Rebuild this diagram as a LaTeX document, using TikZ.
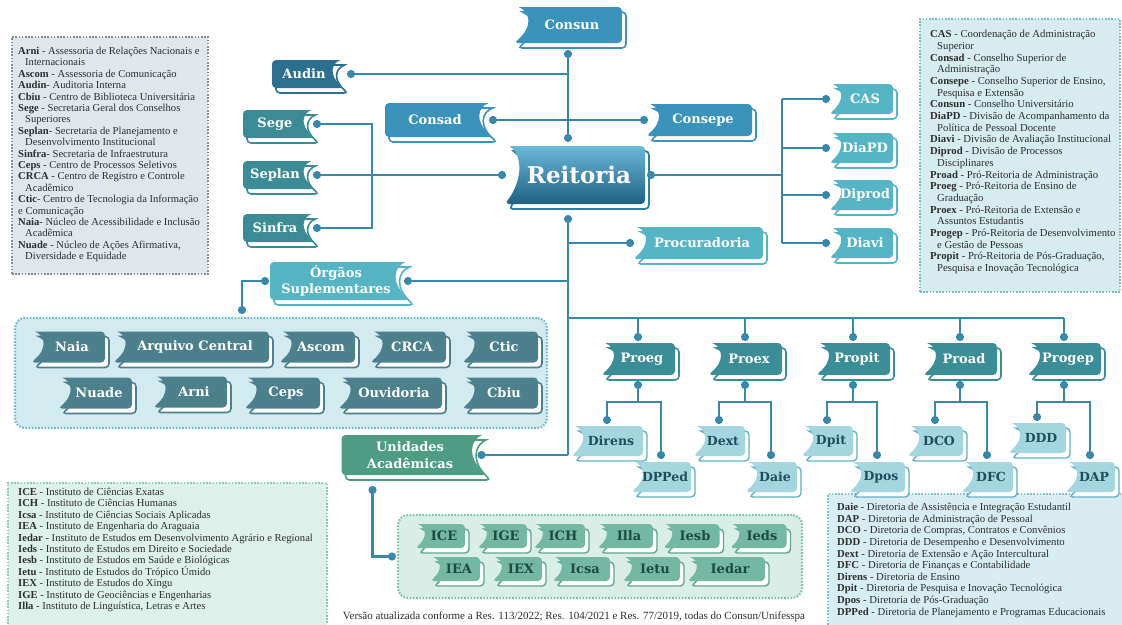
\documentclass[tikz,border=0pt]{standalone}
\usepackage{fontspec}
\setmainfont{Liberation Serif}
\newfontfamily\slab{DejaVu Serif}
\usetikzlibrary{calc,arrows.meta}

\definecolor{lc}{HTML}{3888AC}
\definecolor{cBlue}{HTML}{3A93BB}
\definecolor{cAudin}{HTML}{2C6F8E}
\definecolor{cSege}{HTML}{3C8C98}
\definecolor{cReitTop}{HTML}{6BB8D8}
\definecolor{cReitBot}{HTML}{1F6183}
\definecolor{cReitSh}{HTML}{2F7FA3}
\definecolor{cLight}{HTML}{56B5C5}
\definecolor{cSlate}{HTML}{4C808D}
\definecolor{cPro}{HTML}{3B8E98}
\definecolor{cDir}{HTML}{A4D6DF}
\definecolor{cDirSh}{HTML}{62B1C1}
\definecolor{cDirTxt}{HTML}{1F4E5B}
\definecolor{cUni}{HTML}{4F9C85}
\definecolor{cInst}{HTML}{74B8A3}
\definecolor{cInstSh}{HTML}{5FA58F}
\definecolor{cInstTxt}{HTML}{1E4B40}
\definecolor{cOrgF}{HTML}{D2EBEF}
\definecolor{cOrgB}{HTML}{70BBC8}
\definecolor{cUniF}{HTML}{D9EEE7}
\definecolor{cUniB}{HTML}{80C2AF}
\definecolor{cTLF}{HTML}{DFE7ED}
\definecolor{cTLB}{HTML}{7D909B}
\definecolor{cTRF}{HTML}{D6ECEF}
\definecolor{cTRB}{HTML}{78BCC8}
\definecolor{cBLF}{HTML}{DDF0EA}
\definecolor{cBLB}{HTML}{8CC8B6}
\definecolor{cBRF}{HTML}{D8EDF1}
\definecolor{cBRB}{HTML}{7CC0CC}
\definecolor{cLeg}{HTML}{2E2E2E}

\tikzset{
 conn/.style={draw=lc, line width=2.4pt},
 ds/.style={conn, {Circle[length=8pt]}-, shorten <=-4pt},
 de/.style={conn, -{Circle[length=8pt]}, shorten >=-4pt},
 dd/.style={conn, {Circle[length=8pt]}-{Circle[length=8pt]}, shorten <=-4pt, shorten >=-4pt},
 anch/.style={inner sep=0pt, outer sep=0pt},
 ntxt/.style={font=\slab\bfseries\fontsize{13}{16.5}\selectfont, text=white, align=center, inner sep=0pt},
 kblue sh/.style={fill=white, draw=cBlue, line width=1.6pt},
 kblue fill/.style={fill=cBlue},
 kblue txt/.style={ntxt},
 kaudin sh/.style={fill=white, draw=cAudin, line width=1.6pt},
 kaudin fill/.style={fill=cAudin},
 kaudin txt/.style={ntxt},
 ksege sh/.style={fill=white, draw=cSege, line width=1.6pt},
 ksege fill/.style={fill=cSege},
 ksege txt/.style={ntxt},
 kreit sh/.style={fill=white, draw=cReitSh, line width=1.8pt},
 kreit fill/.style={top color=cReitTop, bottom color=cReitBot},
 kreit txt/.style={ntxt, font=\slab\bfseries\fontsize{23}{26}\selectfont},
 klight sh/.style={fill=white, draw=cLight, line width=1.6pt},
 klight fill/.style={fill=cLight},
 klight txt/.style={ntxt},
 kslate sh/.style={fill=white, draw=cSlate, line width=1.6pt},
 kslate fill/.style={fill=cSlate},
 kslate txt/.style={ntxt},
 kpro sh/.style={fill=white, draw=cPro, line width=1.6pt},
 kpro fill/.style={fill=cPro},
 kpro txt/.style={ntxt},
 kdir sh/.style={fill=white, draw=cDirSh, line width=1.4pt},
 kdir fill/.style={fill=cDir},
 kdir txt/.style={ntxt, text=cDirTxt, font=\slab\bfseries\fontsize{12.5}{15}\selectfont},
 kuni sh/.style={fill=white, draw=cUni, line width=1.6pt},
 kuni fill/.style={fill=cUni},
 kuni txt/.style={ntxt},
 kinst sh/.style={fill=white, draw=cInstSh, line width=1.4pt},
 kinst fill/.style={fill=cInst},
 kinst txt/.style={ntxt, text=cInstTxt},
 cont/.style={anch, line width=2.2pt, dash pattern=on 1.6pt off 1.6pt, rounded corners=10pt},
 legbox/.style={anch, line width=2pt, dash pattern=on 1.6pt off 1.6pt},
 legtxt/.style={anchor=north west, align=left, inner sep=0pt, text=cLeg, font=\fontsize{10.6}{11.4}\selectfont},
}

% banner: name, pos, width, height, side(1 = wave left, -1 = wave right), kind, text
\newcommand\bnr[7]{%
  \pgfmathsetmacro\ha{#3/2}\pgfmathsetmacro\hb{#4/2}\pgfmathsetmacro\wv{min(0.42*#4,15)}%
  \path[#6 sh, shift={(#2)}, shift={(4,5)}, xscale=#5]
    (-\ha+\wv*0.3,-\hb) [rounded corners=4pt] -- (\ha,-\hb) -- (\ha,\hb) -- (-\ha,\hb) [sharp corners]
    .. controls (-\ha+\wv*1.3,\hb*0.1) and (-\ha+\wv*1.1,-\hb*0.75) .. (-\ha+\wv*0.3,-\hb) -- cycle;
  \path[#6 fill, shift={(#2)}, xscale=#5]
    (-\ha+\wv*0.3,-\hb) [rounded corners=4pt] -- (\ha,-\hb) -- (\ha,\hb) -- (-\ha,\hb) [sharp corners]
    .. controls (-\ha+\wv*1.3,\hb*0.1) and (-\ha+\wv*1.1,-\hb*0.75) .. (-\ha+\wv*0.3,-\hb) -- cycle;
  \node[anch, minimum width=#3, minimum height=#4] (#1) at (#2) {};
  \node[#6 txt] (#1-t) at ($(#1)+(#5*4,0)$) {#7};
}
\newcommand\ind{\hspace*{7pt}}

\begin{document}
\begin{tikzpicture}[x=1pt, y=-1pt]
\useasboundingbox (0,0) rectangle (1122,624);
\fill[white] (0,0) rectangle (1122,624);

% legends
\node[legbox, fill=cTLF, draw=cTLB, minimum width=196, minimum height=237] (LegTL) at (110,155.5) {};
\node[legbox, fill=cTRF, draw=cTRB, minimum width=200, minimum height=273] (LegTR) at (1020,155.5) {};
\node[legbox, fill=cBLF, draw=cBLB, minimum width=319, minimum height=157] (LegBL) at (167.5,561.5) {};
\node[legbox, fill=cBRF, draw=cBRB, minimum width=302, minimum height=147] (LegBR) at (979,567.5) {};

\node[legtxt] (LegTLt) at (18,47) {%
\textbf{Arni} - Assessoria de Relações Nacionais e\\
\ind Internacionais\\
\textbf{Ascom} - Assessoria de Comunicação\\
\textbf{Audin}- Auditoria Interna\\
\textbf{Cbiu} - Centro de Biblioteca Universitária\\
\textbf{Sege} - Secretaria Geral dos Conselhos\\
\ind Superiores\\
\textbf{Seplan}- Secretaria de Planejamento e\\
\ind Desenvolvimento Institucional\\
\textbf{Sinfra}- Secretaria de Infraestrutura\\
\textbf{Ceps} - Centro de Processos Seletivos\\
\textbf{CRCA} - Centro de Registro e Controle\\
\ind Acadêmico\\
\textbf{Ctic}- Centro de Tecnologia da Informação\\
e Comunicação\\
\textbf{Naia}- Núcleo de Acessibilidade e Inclusão\\
\ind Acadêmica\\
\textbf{Nuade} - Núcleo de Ações Afirmativa,\\
\ind Diversidade e Equidade};

\node[legtxt, font=\fontsize{10.7}{11.7}\selectfont] (LegTRt) at (930,30) {%
\textbf{CAS} - Coordenação de Administração\\
\ind Superior\\
\textbf{Consad} - Conselho Superior de\\
\ind Administração\\
\textbf{Consepe} - Conselho Superior de Ensino,\\
\ind Pesquisa e Extensão\\
\textbf{Consun} - Conselho Universitário\\
\textbf{DiaPD} - Divisão de Acompanhamento da\\
\ind Política de Pessoal Docente\\
\textbf{Diavi} - Divisão de Avaliação Institucional\\
\textbf{Diprod} - Divisão de Processos\\
\ind Disciplinares\\
\textbf{Proad} - Pró-Reitoria de Administração\\
\textbf{Proeg} - Pró-Reitoria de Ensino de\\
\ind Graduação\\
\textbf{Proex} - Pró-Reitoria de Extensão e\\
\ind Assuntos Estudantis\\
\textbf{Progep} - Pró-Reitoria de Desenvolvimento\\
\ind e Gestão de Pessoas\\
\textbf{Propit} - Pró-Reitoria de Pós-Graduação,\\
\ind Pesquisa e Inovação Tecnológica};

\node[legtxt] (LegBLt) at (18,488) {%
\textbf{ICE} - Instituto de Ciências Exatas\\
\textbf{ICH} - Instituto de Ciências Humanas\\
\textbf{Icsa} - Instituto de Ciências Sociais Aplicadas\\
\textbf{IEA} - Instituto de Engenharia do Araguaia\\
\textbf{Iedar} - Instituto de Estudos em Desenvolvimento Agrário e Regional\\
\textbf{Ieds} - Instituto de Estudos em Direito e Sociedade\\
\textbf{Iesb} - Instituto de Estudos em Saúde e Biológicas\\
\textbf{Ietu} - Instituto de Estudos do Trópico Úmido\\
\textbf{IEX} - Instituto de Estudos do Xingu\\
\textbf{IGE} - Instituto de Geociências e Engenharias\\
\textbf{Illa} - Instituto de Linguística, Letras e Artes};

\node[legtxt, font=\fontsize{10.7}{11.6}\selectfont] (LegBRt) at (837,503) {%
\textbf{Daie} - Diretoria de Assistência e Integração Estudantil\\
\textbf{DAP} - Diretoria de Administração de Pessoal\\
\textbf{DCO} - Diretoria de Compras, Contratos e Convênios\\
\textbf{DDD} - Diretoria de Desempenho e Desenvolvimento\\
\textbf{Dext} - Diretoria de Extensão e Ação Intercultural\\
\textbf{DFC} - Diretoria de Finanças e Contabilidade\\
\textbf{Direns} - Diretoria de Ensino\\
\textbf{Dpit} - Diretoria de Pesquisa e Inovação Tecnológica\\
\textbf{Dpos} - Diretoria de Pós-Graduação\\
\textbf{DPPed} - Diretoria de Planejamento e Programas Educacionais};

\node[anch, text=cLeg, font=\fontsize{11}{12}\selectfont] (foot) at (574,617)
 {Versão atualizada conforme a Res. 113/2022; Res. 104/2021 e Res. 77/2019, todas do Consun/Unifesspa};

% containers
\node[cont, fill=cOrgF, draw=cOrgB, minimum width=532, minimum height=110] (OrgBox) at (281,373) {};
\node[cont, fill=cUniF, draw=cUniB, minimum width=404, minimum height=83] (UniBox) at (600,556.5) {};

% banners
\bnr{Consun}{568,25}{108}{36}{1}{kblue}{Consun}
\bnr{Reitoria}{575,175}{140}{58}{1}{kreit}{Reitoria}
\bnr{Audin}{308,74}{72}{28}{-1}{kaudin}{Audin}
\bnr{Consad}{439,120}{108}{34}{-1}{kblue}{Consad}
\bnr{Consepe}{699,120}{106}{32}{1}{kblue}{Consepe}
\bnr{Sege}{279,124}{72}{28}{-1}{ksege}{Sege}
\bnr{Seplan}{279,175}{72}{28}{-1}{ksege}{Seplan}
\bnr{Sinfra}{279,228}{72}{28}{-1}{ksege}{Sinfra}
\bnr{CAS}{861,99}{64}{30}{1}{klight}{CAS}
\bnr{DiaPD}{861,148}{64}{30}{1}{klight}{DiaPD}
\bnr{Diprod}{861,195}{64}{30}{1}{klight}{Diprod}
\bnr{Diavi}{861,243}{64}{30}{1}{klight}{Diavi}
\bnr{Procuradoria}{698,243}{130}{32}{1}{klight}{Procuradoria}
\bnr{Orgaos}{340,281}{140}{38}{-1}{klight}{Órgãos\\Suplementares}
\bnr{Unidades}{414,455}{145}{40}{-1}{kuni}{Unidades\\Acadêmicas}

\bnr{Naia}{68,347}{74}{31}{1}{kslate}{Naia}
\bnr{Arquivo}{191,347}{156}{31}{1}{kslate}{Arquivo Central}
\bnr{Ascom}{317,347}{76}{31}{1}{kslate}{Ascom}
\bnr{CRCA}{408,347}{76}{31}{1}{kslate}{CRCA}
\bnr{Ctic}{500,347}{76}{31}{1}{kslate}{Ctic}
\bnr{Nuade}{95,393}{74}{31}{1}{kslate}{Nuade}
\bnr{Arni}{190,392}{74}{31}{1}{kslate}{Arni}
\bnr{Ceps}{282,393}{76}{31}{1}{kslate}{Ceps}
\bnr{Ouvidoria}{390,393}{104}{31}{1}{kslate}{Ouvidoria}
\bnr{Cbiu}{500,393}{76}{31}{1}{kslate}{Cbiu}

\bnr{Proeg}{638,359}{74}{32}{1}{kpro}{Proeg}
\bnr{Proex}{745,359}{74}{32}{1}{kpro}{Proex}
\bnr{Propit}{853,359}{74}{32}{1}{kpro}{Propit}
\bnr{Proad}{960,359}{74}{32}{1}{kpro}{Proad}
\bnr{Progep}{1064,359}{74}{32}{1}{kpro}{Progep}

\bnr{Direns}{607,441}{72}{30}{1}{kdir}{Direns}
\bnr{DPPed}{661,477}{60}{30}{1}{kdir}{DPPed}
\bnr{Dext}{719,441}{52}{30}{1}{kdir}{Dext}
\bnr{Daie}{771,477}{52}{30}{1}{kdir}{Daie}
\bnr{Dpit}{827,441}{52}{30}{1}{kdir}{Dpit}
\bnr{Dpos}{877,477}{56}{30}{1}{kdir}{Dpos}
\bnr{DCO}{935,441}{56}{30}{1}{kdir}{DCO}
\bnr{DFC}{987,477}{52}{30}{1}{kdir}{DFC}
\bnr{DDD}{1037,438}{58}{30}{1}{kdir}{DDD}
\bnr{DAP}{1090,477}{50}{30}{1}{kdir}{DAP}

\bnr{ICE}{440,536}{50}{24}{1}{kinst}{ICE}
\bnr{IGE}{502,536}{50}{24}{1}{kinst}{IGE}
\bnr{ICH}{559,536}{52}{24}{1}{kinst}{ICH}
\bnr{Illa}{625,536}{56}{24}{1}{kinst}{Illa}
\bnr{Iesb}{691,536}{57}{24}{1}{kinst}{Iesb}
\bnr{Ieds}{758,536}{57}{24}{1}{kinst}{Ieds}
\bnr{IEA}{455,569}{50}{24}{1}{kinst}{IEA}
\bnr{IEX}{517,569}{50}{24}{1}{kinst}{IEX}
\bnr{Icsa}{581,569}{58}{24}{1}{kinst}{Icsa}
\bnr{Ietu}{651,569}{58}{24}{1}{kinst}{Ietu}
\bnr{Iedar}{726,569}{78}{24}{1}{kinst}{Iedar}

% connectors
\draw[dd] ($(Consun.south)+(0,11)$) -- ($(Consun.south |- Reitoria.north)+(0,-8)$);
\draw[ds] ($(Audin.east)+(7,0)$) -- (Consun.south |- Audin.east);
\draw[dd] (Consad.east) -- ($(Consepe.west)+(-2,0)$);
\draw[dd] ($(Seplan.east)+(2,0)$) -- ($(Reitoria.west)+(-3,0)$);
\coordinate (brk) at ($(Seplan.east)+(57,0)$);
\draw[dd] ($(Sege.east)+(2,0)$) -| (brk) |- ($(Sinfra.east)+(2,0)$);

\coordinate (rb) at ($(CAS.west)+(-47,0)$);
\draw[ds] ($(Reitoria.east)+(6,0)$) -- (rb |- Reitoria.east);
\draw[conn] (rb) -- (rb |- Diavi.west);
\foreach \n in {CAS,DiaPD,Diprod,Diavi}
  \draw[de] (rb |- \n.west) -- ($(\n.west)+(-3,0)$);

\draw[ds] ($(Consun.south |- Reitoria.south)+(0,15)$) -- (Consun.south |- Unidades.east);
\draw[de] (Consun.south |- Procuradoria.west) -- ($(Procuradoria.west)+(-3,0)$);
\draw[ds] ($(Orgaos.east)+(-2,0)$) -- (Consun.south |- Orgaos.east);
\draw[dd] ($(Orgaos.west)+(-5,0)$) -| ($(OrgBox.north west)+(227,-8)$);
\draw[ds] ($(Unidades.east)+(-5,0)$) -- (Consun.south |- Unidades.east);
\draw[dd] ($(Unidades.south west)+(31,15)$) |- ($(UniBox.west)+(-6,0)$);

\coordinate (bus) at ($(Proeg.north)+(0,-25)$);
\draw[conn] (Consun.south |- bus) -- (Progep.north |- bus);
\foreach \n in {Proeg,Proex,Propit,Proad,Progep}
  \draw[de] (\n.north |- bus) -- ($(\n.north)+(0,-6)$);
\foreach \p/\a/\b in {Proeg/Direns/DPPed, Proex/Dext/Daie, Propit/Dpit/Dpos, Proad/DCO/DFC, Progep/DDD/DAP} {
  \draw[ds] ($(\p.south)+(0,10)$) -- ($(\p.south)+(0,27)$);
  \draw[dd] ($(\a.north)+(0,-6)$) |- ($(\p.south)+(0,27)$) -| ($(\b.north)+(0,-7)$);
}
\end{tikzpicture}
\end{document}
